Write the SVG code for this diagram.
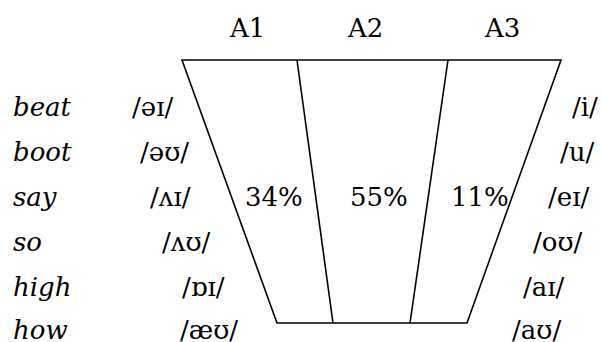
<svg xmlns="http://www.w3.org/2000/svg" width="603" height="342" viewBox="0 0 603 342">
<style>
text{font-family:"DejaVu Serif","Liberation Serif",serif;font-size:26px;fill:#000}
.w{font-style:italic}
.ln{stroke:#000;stroke-width:1.6;fill:none}
</style>
<rect width="603" height="342" fill="#fff"/>
<g id="connectors">
<polygon class="ln" points="182,60 561,60 467,323 277,323"/>
<line class="ln" x1="297" y1="60" x2="333" y2="323"/>
<line class="ln" x1="448" y1="60" x2="410" y2="323"/>
</g>
<g id="headers">
<text x="230" y="37">A1</text>
<text x="348" y="37">A2</text>
<text x="485" y="37">A3</text>
</g>
<g id="percents">
<text x="245" y="206">34%</text>
<text x="350" y="206">55%</text>
<text x="451" y="206">11%</text>
</g>
<g id="words">
<text class="w" x="13" y="116">beat</text>
<text class="w" x="13" y="161">boot</text>
<text class="w" x="13" y="206">say</text>
<text class="w" x="13" y="251">so</text>
<text class="w" x="13" y="296">high</text>
<text class="w" x="13" y="339">how</text>
</g>
<g id="left-phonemes">
<text x="132" y="116">/əɪ/</text>
<text x="140" y="161">/əʊ/</text>
<text x="150" y="206">/ʌɪ/</text>
<text x="162" y="251">/ʌʊ/</text>
<text x="182" y="296">/ɒɪ/</text>
<text x="180" y="339">/æʊ/</text>
</g>
<g id="right-phonemes">
<text x="572" y="116">/i/</text>
<text x="560" y="161">/u/</text>
<text x="548" y="206">/eɪ/</text>
<text x="533" y="251">/oʊ/</text>
<text x="523" y="296">/aɪ/</text>
<text x="512" y="339">/aʊ/</text>
</g>
</svg>
